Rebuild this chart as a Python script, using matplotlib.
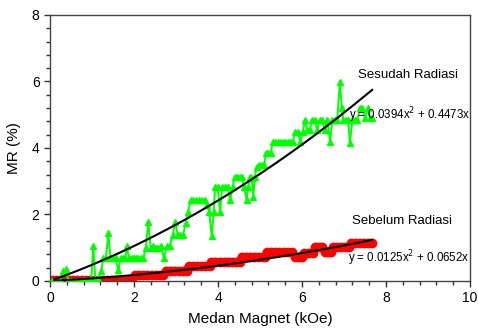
import numpy as np
import matplotlib
matplotlib.use("Agg")
import matplotlib.pyplot as plt
from matplotlib.ticker import MultipleLocator

plt.rcParams["font.family"] = ["Liberation Sans", "DejaVu Sans"]

# Sesudah Radiasi (after irradiation)
green_x = [0.05, 0.15, 0.25, 0.32, 0.38, 0.42, 0.5, 0.6, 0.7, 0.8, 0.9, 0.98,
           1.03, 1.08, 1.15, 1.22, 1.27, 1.33, 1.39, 1.44, 1.5, 1.56, 1.63, 1.68,
           1.74, 1.79, 1.83, 1.88, 1.95, 2.0, 2.05, 2.1, 2.16, 2.22, 2.28, 2.34,
           2.4, 2.46, 2.52, 2.58, 2.64, 2.71, 2.78, 2.85, 2.92, 2.98, 3.04, 3.1,
           3.17, 3.23, 3.29, 3.35, 3.41, 3.48, 3.55, 3.62, 3.68, 3.73, 3.79, 3.85,
           3.9, 3.93, 3.99, 4.05, 4.1, 4.17, 4.23, 4.29, 4.35, 4.4, 4.46, 4.52,
           4.56, 4.62, 4.68, 4.72, 4.76, 4.8, 4.84, 4.88, 4.92, 4.98, 5.04, 5.1,
           5.14, 5.2, 5.26, 5.3, 5.36, 5.42, 5.48, 5.54, 5.6, 5.66, 5.72, 5.78,
           5.84, 5.9, 5.96, 6.02, 6.07, 6.12, 6.18, 6.24, 6.3, 6.36, 6.42, 6.48,
           6.54, 6.6, 6.67, 6.72, 6.78, 6.84, 6.9, 6.95, 6.98, 7.04, 7.1, 7.14,
           7.2, 7.26, 7.32, 7.38, 7.44, 7.5, 7.56, 7.62, 7.67]
green_y = [0, 0, 0.02, 0.3, 0.35, 0.02, 0, 0, 0, 0.02, 0, 0.02,
           1.05, 0.02, 0.05, 0.3, 0.68, 0.68, 1.43, 0.68, 0.68, 0.68, 0.33, 0.68,
           0.68, 0.68, 1.05, 0.68, 0.68, 0.7, 0.68, 0.68, 0.68, 0.68, 0.98, 1.78,
           0.98, 1.05, 0.98, 0.98, 1.05, 0.68, 1.05, 1.05, 1.38, 1.78, 1.38, 1.38,
           1.38, 1.75, 2.08, 2.44, 2.44, 2.44, 2.44, 2.44, 2.44, 2.3, 2.08, 1.35,
           2.08, 2.84, 2.84, 2.08, 2.84, 2.84, 2.84, 2.44, 2.84, 3.14, 3.14, 3.14,
           3.14, 2.84, 2.44, 2.84, 3.14, 3.09, 2.54, 3.14, 3.44, 3.49, 3.49, 3.49,
           3.84, 3.84, 3.84, 4.19, 4.19, 4.19, 4.19, 4.19, 4.19, 4.19, 4.19, 4.19,
           4.49, 4.49, 4.19, 4.49, 4.84, 4.54, 4.54, 4.84, 4.84, 4.54, 4.84, 4.84,
           4.54, 4.84, 4.19, 4.84, 4.84, 4.84, 5.99, 5.19, 4.84, 4.84, 4.84, 4.14,
           4.84, 4.84, 4.84, 5.19, 5.19, 4.9, 5.19, 4.9, 4.9]

# Sebelum Radiasi (before irradiation)
red_x = [0.05, 0.15, 0.25, 0.35, 0.45, 0.55, 0.65, 0.75, 0.85, 0.95, 1.05, 1.15,
         1.25, 1.35, 1.45, 1.55, 1.65, 1.75, 1.85, 1.95,
         2.02, 2.12, 2.22, 2.32, 2.42, 2.52, 2.62, 2.7,
         2.76, 2.86, 2.96, 3.06, 3.16, 3.25,
         3.3, 3.4, 3.5, 3.6, 3.7, 3.8,
         3.84, 3.94, 4.04, 4.14, 4.24, 4.34, 4.44, 4.52,
         4.56, 4.66, 4.76, 4.86, 4.96, 5.06, 5.12,
         5.16, 5.26, 5.36, 5.46, 5.56, 5.66, 5.76,
         5.84, 5.92, 6.0, 6.05, 6.15, 6.26,
         6.32, 6.4, 6.48, 6.54, 6.62, 6.7,
         6.74, 6.84, 6.94, 7.04, 7.12,
         7.17, 7.27, 7.37, 7.47, 7.57, 7.66]
red_y = [0.02] * 20 + [0.17] * 8 + [0.31] * 6 + [0.45] * 6 + [0.58] * 8 \
    + [0.73] * 7 + [0.87] * 7 + [0.73] * 3 + [0.83] * 3 + [1.03] * 3 \
    + [0.88] * 3 + [1.03] * 5 + [1.15] * 6

# trend lines shown in the chart (no intercept)
green_fit = [0.0394, 0.4473, 0.0]
red_fit = [0.0125, 0.0652, 0.0]
fit_x = np.linspace(0.1, 7.67, 200)

fig = plt.figure(figsize=(4.78, 3.36), dpi=100)
ax = fig.add_axes([0.1046, 0.1637, 0.8787, 0.7917])

ax.plot(red_x, red_y, color="#ff0000", lw=5.5, marker="o", ms=6,
        solid_capstyle="round", zorder=2)
ax.plot(green_x, green_y, color="#00ff00", lw=1.4, marker="^", ms=5,
        zorder=3)
ax.plot(fit_x, np.polyval(green_fit, fit_x), color="black", lw=1.5, zorder=4)
ax.plot(fit_x, np.polyval(red_fit, fit_x), color="black", lw=1.5, zorder=4)

ax.text(8.52, 6.2, "Sesudah Radiasi", fontsize=9.5, ha="center", va="center")
ax.text(8.57, 4.99, "y = 0.0394x$^2$ + 0.4473x", fontsize=8.3,
        ha="center", va="center")
ax.text(8.39, 1.8, "Sebelum Radiasi", fontsize=9.5, ha="center", va="center")
ax.text(8.55, 0.69, "y = 0.0125x$^2$ + 0.0652x", fontsize=8.3,
        ha="center", va="center")

ax.set_xlim(0, 10)
ax.set_ylim(0, 8)
ax.xaxis.set_major_locator(MultipleLocator(2))
ax.xaxis.set_minor_locator(MultipleLocator(0.4))
ax.yaxis.set_major_locator(MultipleLocator(2))
ax.yaxis.set_minor_locator(MultipleLocator(0.4))
ax.tick_params(which="both", direction="out", top=False, right=False,
               labelsize=10, color="#333333", width=1)
ax.tick_params(which="major", length=4)
ax.tick_params(which="minor", length=3)
for s in ax.spines.values():
    s.set_color("#444444")
    s.set_linewidth(1)

ax.set_xlabel("Medan Magnet (kOe)", fontsize=11, labelpad=5)
ax.set_ylabel("MR (%)", fontsize=11, labelpad=8)

fig.savefig("out.png", dpi=100)
